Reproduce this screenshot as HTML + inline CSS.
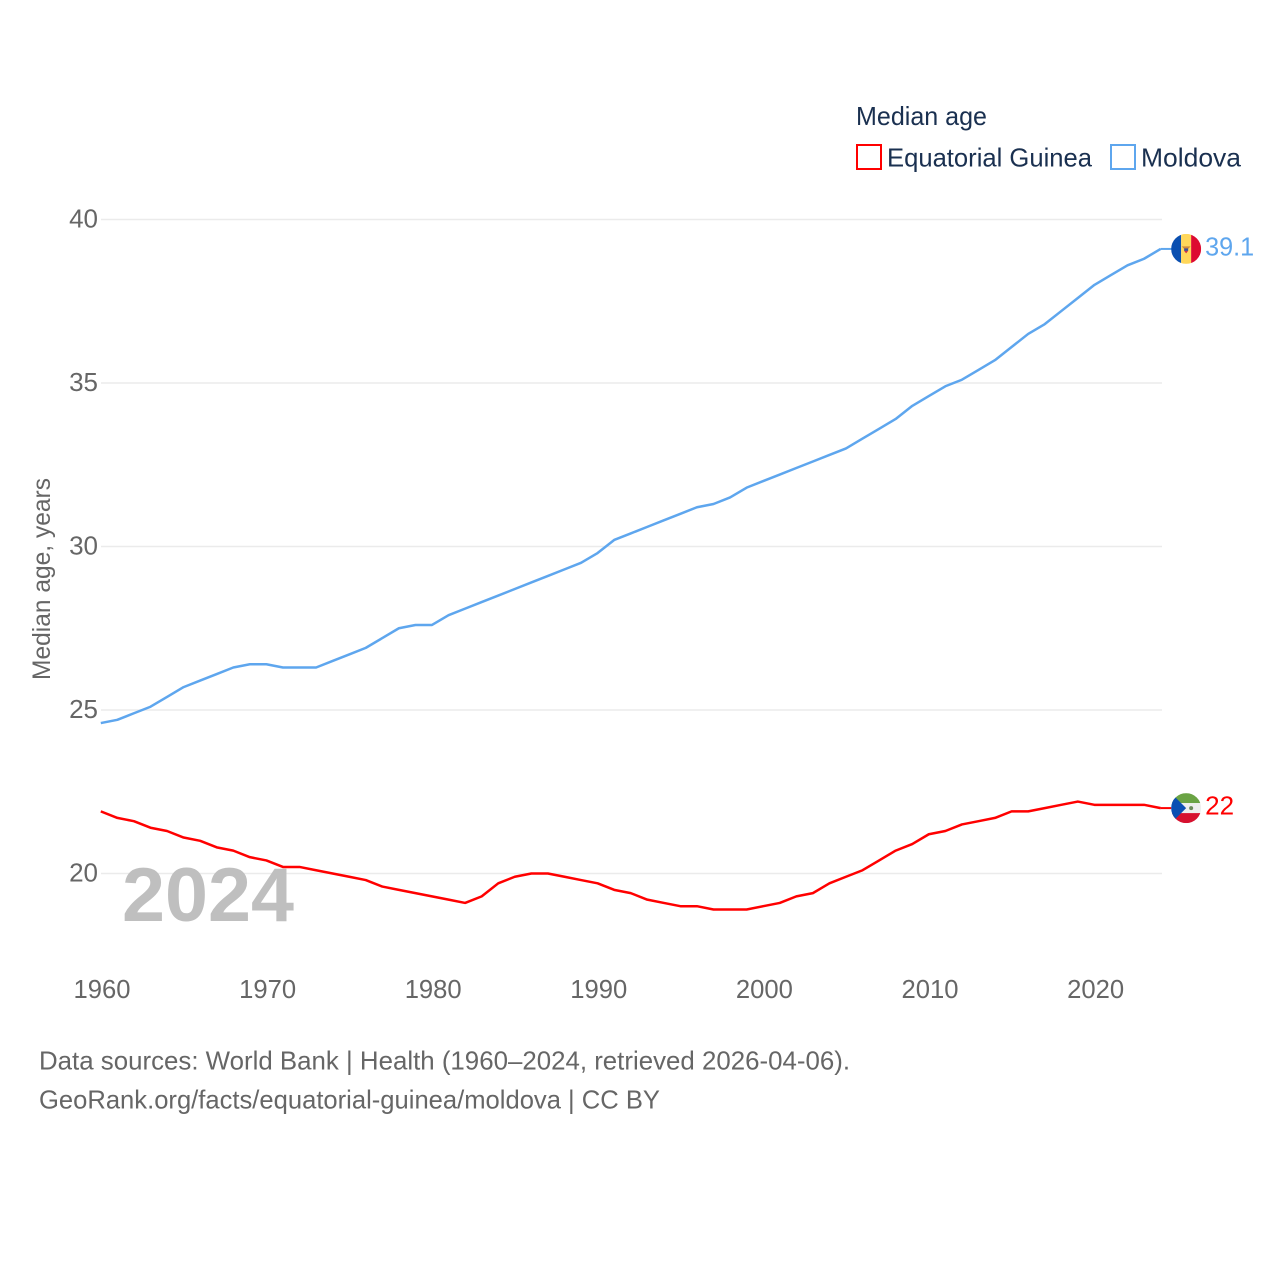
<!DOCTYPE html>
<html lang="en">
<head>
<meta charset="utf-8">
<title>Median age: Equatorial Guinea and Moldova</title>
<style>
html,body{margin:0;padding:0;background:#fff;width:1280px;height:1280px;overflow:hidden}
svg{display:block}
text{font-family:"Liberation Sans",sans-serif}
</style>
</head>
<body>
<svg id="chart" xmlns="http://www.w3.org/2000/svg" width="1280" height="1280" viewBox="0 0 1280 1280">
  <defs>
    <clipPath id="flag-clip"><circle cx="0" cy="0" r="15"></circle></clipPath>
  </defs>
  <rect width="1280" height="1280" fill="#fff"></rect>
  <g id="grid"></g>
  <g id="yticks"></g>
  <g id="xticks"></g>
  <text x="122" y="921" font-size="76" font-weight="700" fill="#bfbfbf" textLength="172" lengthAdjust="spacingAndGlyphs">2024</text>
  <text transform="translate(50,680) rotate(-90)" font-size="25" fill="#666" textLength="202" lengthAdjust="spacingAndGlyphs">Median age, years</text>
  <g id="series"></g>

  <g id="flag-md">
    <g clip-path="url(#flag-clip)">
      <rect x="-15" y="-15" width="10" height="30" fill="#0a4fb0"></rect>
      <rect x="-5" y="-15" width="10" height="30" fill="#ffd75a"></rect>
      <rect x="5" y="-15" width="10" height="30" fill="#dd0a30"></rect>
      <path d="M-4.5 -2.5 L4.5 -2.5 L2 0 L-2 0 Z" fill="#d08a3c"></path>
      <rect x="-2" y="-0.5" width="4" height="2.5" fill="#3b4f9a"></rect>
      <path d="M-2 2 L2 2 L0 4.5 Z" fill="#c8324a"></path>
    </g>
  </g>
  <g id="flag-gq">
    <g clip-path="url(#flag-clip)">
      <rect x="-15" y="-15" width="30" height="10" fill="#6aa344"></rect>
      <rect x="-15" y="-5" width="30" height="10" fill="#eeeeee"></rect>
      <rect x="-15" y="5" width="30" height="10" fill="#d6112f"></rect>
      <path d="M-15 -15 L0 0 L-15 15 Z" fill="#0b4fb3"></path>
      <circle cx="5" cy="0" r="2" fill="#6b8a5a"></circle>
    </g>
  </g>
  <text id="label-md" font-size="26" fill="#5ea6ee" textLength="49" lengthAdjust="spacingAndGlyphs"></text>
  <text id="label-gq" font-size="26" fill="#ff0000"></text>

  <g>
    <text x="856" y="125" font-size="26" fill="#1a3050" textLength="131" lengthAdjust="spacingAndGlyphs">Median age</text>
    <g>
      <rect x="857" y="145" width="24" height="24" fill="#fff" stroke="#ff0000" stroke-width="2"></rect>
      <text x="887" y="166.5" font-size="26" fill="#1a3050" textLength="205" lengthAdjust="spacingAndGlyphs">Equatorial Guinea</text>
    </g>
    <g>
      <rect x="1111" y="145" width="24" height="24" fill="#fff" stroke="#5ea6ee" stroke-width="2"></rect>
      <text x="1141" y="166.5" font-size="26" fill="#1a3050" textLength="100" lengthAdjust="spacingAndGlyphs">Moldova</text>
    </g>
  </g>

  <g>
    <text x="39" y="1069.5" font-size="26" fill="#666" textLength="811" lengthAdjust="spacingAndGlyphs">Data sources: World Bank | Health (1960–2024, retrieved 2026-04-06).</text>
    <text x="39" y="1108.5" font-size="26" fill="#666" textLength="621" lengthAdjust="spacingAndGlyphs">GeoRank.org/facts/equatorial-guinea/moldova | CC BY</text>
  </g>
</svg>
<script>
const startYear = 1960;
const xTickLabels = [1960, 1970, 1980, 1990, 2000, 2010, 2020];
const yTickLabels = [20, 25, 30, 35, 40];
const moldovaValues = [24.6,24.7,24.9,25.1,25.4,25.7,25.9,26.1,26.3,26.4,26.4,26.3,26.3,26.3,26.5,26.7,26.9,27.2,27.5,27.6,27.6,27.9,28.1,28.3,28.5,28.7,28.9,29.1,29.3,29.5,29.8,30.2,30.4,30.6,30.8,31.0,31.2,31.3,31.5,31.8,32.0,32.2,32.4,32.6,32.8,33.0,33.3,33.6,33.9,34.3,34.6,34.9,35.1,35.4,35.7,36.1,36.5,36.8,37.2,37.6,38.0,38.3,38.6,38.8,39.1];
const equatorialGuineaValues = [21.9,21.7,21.6,21.4,21.3,21.1,21.0,20.8,20.7,20.5,20.4,20.2,20.2,20.1,20.0,19.9,19.8,19.6,19.5,19.4,19.3,19.2,19.1,19.3,19.7,19.9,20.0,20.0,19.9,19.8,19.7,19.5,19.4,19.2,19.1,19.0,19.0,18.9,18.9,18.9,19.0,19.1,19.3,19.4,19.7,19.9,20.1,20.4,20.7,20.9,21.2,21.3,21.5,21.6,21.7,21.9,21.9,22.0,22.1,22.2,22.1,22.1,22.1,22.1,22.0];

const NS = 'http://www.w3.org/2000/svg';
function xScale(year) { return 100.8 + (year - 1960) * 16.56; }
function yScale(v) { return 873.5 - (v - 20) * 32.7; }
function mk(tag, parent) {
  const el = document.createElementNS(NS, tag);
  parent.appendChild(el);
  return el;
}

const gridG = document.getElementById('grid');
const yG = document.getElementById('yticks');
const xG = document.getElementById('xticks');
const seriesG = document.getElementById('series');

yTickLabels.forEach(function (v) {
  const line = mk('line', gridG);
  
  
  line.setAttribute('x1', 101);
  line.setAttribute('x2', 1162);
  line.setAttribute('y1', yScale(v));
  line.setAttribute('y2', yScale(v));
  line.setAttribute('stroke', '#ebebeb');
  line.setAttribute('stroke-width', 1.5);

  const t = mk('text', yG);
  
  
  t.setAttribute('x', 98);
  t.setAttribute('y', yScale(v) + 8);
  t.setAttribute('text-anchor', 'end');
  t.setAttribute('font-size', 26);
  t.setAttribute('fill', '#666');
  t.textContent = v;
});

xTickLabels.forEach(function (y) {
  const t = mk('text', xG);
  
  
  t.setAttribute('x', xScale(y) + 1.2);
  t.setAttribute('y', 998);
  t.setAttribute('text-anchor', 'middle');
  t.setAttribute('font-size', 26);
  t.setAttribute('fill', '#666');
  t.setAttribute('textLength', 57);
  t.setAttribute('lengthAdjust', 'spacingAndGlyphs');
  t.textContent = y;
});

function drawSeries(values, color, name, flagId, labelId) {
  const pts = values.map(function (v, i) {
    return xScale(startYear + i).toFixed(2) + ',' + yScale(v).toFixed(2);
  });
  const lastV = values[values.length - 1];
  const lastY = yScale(lastV);
  const lastX = xScale(startYear + values.length - 1);

  const line = mk('polyline', seriesG);
  
  
  line.setAttribute('points', pts.join(' '));
  line.setAttribute('fill', 'none');
  line.setAttribute('stroke', color);
  line.setAttribute('stroke-width', 2.5);
  line.setAttribute('stroke-linejoin', 'round');

  const stub = mk('line', seriesG);
  
  
  stub.setAttribute('x1', lastX);
  stub.setAttribute('x2', lastX + 11);
  stub.setAttribute('y1', lastY);
  stub.setAttribute('y2', lastY);
  stub.setAttribute('stroke', color);
  stub.setAttribute('stroke-width', 2);

  document.getElementById(flagId).setAttribute('transform', 'translate(' + (lastX + 25.5) + ',' + lastY + ')');
  const label = document.getElementById(labelId);
  label.setAttribute('x', lastX + 44.5);
  label.setAttribute('y', lastY + 6.5);
  label.textContent = lastV;
}

drawSeries(moldovaValues, '#5ea6ee', 'moldova', 'flag-md', 'label-md');
drawSeries(equatorialGuineaValues, '#ff0000', 'equatorial-guinea', 'flag-gq', 'label-gq');
</script>
</body>
</html>
